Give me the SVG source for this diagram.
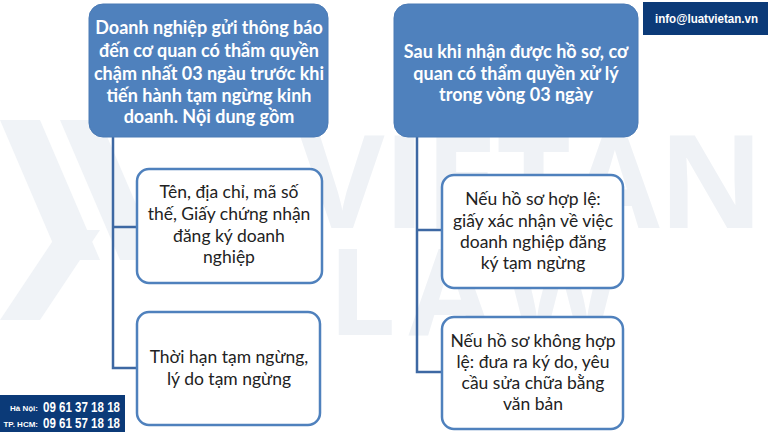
<svg xmlns="http://www.w3.org/2000/svg" width="768" height="432" viewBox="0 0 768 432">
<defs>
<style>
.wm{font-family:"Open Sans","Liberation Sans",sans-serif;font-weight:700;fill:#eff2f6}
.parent{fill:#4f81bd;stroke:#4a7ab5;stroke-width:1}
.child{fill:#ffffff;stroke:#4f81bd;stroke-width:2.5}
.pt{font-family:Lato,"Noto Sans",sans-serif;font-weight:700;font-size:18px;fill:#ffffff;text-anchor:middle}
.ct{font-family:Lato,"Noto Sans",sans-serif;font-size:17.5px;fill:#222222;text-anchor:middle}
.conn{fill:none;stroke:#3d68a3;stroke-width:2.5}
.navy{fill:#0b3a78}
.ph{font-family:"Liberation Sans",sans-serif;font-weight:700;fill:#ffffff}
</style>
</defs>
<rect width="768" height="432" fill="#ffffff"/>
<g id="watermark">
<polygon points="0,120 40,120 100,260 60,260" fill="#f0f3f7"/>
<polygon points="60,120 100,120 160,260 120,260" fill="#f0f3f7"/>
<polygon points="0,320 40,320 100,230 60,230" fill="#f0f3f7"/>
<text class="wm" x="300" y="228" font-size="130" letter-spacing="4" textLength="468" lengthAdjust="spacing">VIETAN</text>
<text class="wm" x="328" y="335" font-size="120" textLength="292" lengthAdjust="spacing">LAW</text>
</g>
<g id="connectors">
<path class="conn" d="M113,137 V368 H137 M113,227 H137"/>
<path class="conn" d="M417,137 V372 H442 M417,230 H442"/>
</g>
<g id="node-left-parent">
<rect class="parent" x="89" y="4" width="239" height="133" rx="14"/>
<text class="pt" x="209" y="34">Doanh nghiệp gửi thông báo</text>
<text class="pt" x="209" y="57">đến cơ quan có thẩm quyền</text>
<text class="pt" x="209" y="80">chậm nhất 03 ngàu trước khi</text>
<text class="pt" x="209" y="102">tiến hành tạm ngừng kinh</text>
<text class="pt" x="209" y="123">doanh. Nội dung gồm</text>
</g>
<g id="node-right-parent">
<rect class="parent" x="394" y="4" width="244" height="133" rx="14"/>
<text class="pt" x="516" y="58">Sau khi nhận được hồ sơ, cơ</text>
<text class="pt" x="516" y="80">quan có thẩm quyền xử lý</text>
<text class="pt" x="516" y="101">trong vòng 03 ngày</text>
</g>
<g id="node-left-child-1">
<rect class="child" x="137" y="169" width="185" height="114" rx="12"/>
<text class="ct" x="229" y="198">Tên, địa chỉ, mã số</text>
<text class="ct" x="229" y="220">thế, Giấy chứng nhận</text>
<text class="ct" x="229" y="242">đăng ký doanh</text>
<text class="ct" x="229" y="263">nghiệp</text>
</g>
<g id="node-left-child-2">
<rect class="child" x="137" y="312" width="183" height="113" rx="12"/>
<text class="ct" x="229" y="363">Thời hạn tạm ngừng,</text>
<text class="ct" x="229" y="385">lý do tạm ngừng</text>
</g>
<g id="node-right-child-1">
<rect class="child" x="442" y="175" width="181" height="113" rx="12"/>
<text class="ct" x="533" y="205">Nếu hồ sơ hợp lệ:</text>
<text class="ct" x="533" y="227">giấy xác nhận về việc</text>
<text class="ct" x="533" y="248">doanh nghiệp đăng</text>
<text class="ct" x="533" y="269">ký tạm ngừng</text>
</g>
<g id="node-right-child-2">
<rect class="child" x="442" y="317" width="181" height="112" rx="12"/>
<text class="ct" x="533" y="347">Nếu hồ sơ không hợp</text>
<text class="ct" x="533" y="368">lệ: đưa ra ký do, yêu</text>
<text class="ct" x="533" y="389">cầu sửa chữa bằng</text>
<text class="ct" x="533" y="410">văn bản</text>
</g>
<g id="email-badge">
<rect class="navy" x="643" y="2" width="125" height="33"/>
<text class="ph" x="655" y="23" font-size="12" textLength="103" lengthAdjust="spacingAndGlyphs">info@luatvietan.vn</text>
</g>
<g id="phone-badge">
<rect class="navy" x="0" y="395" width="125" height="37"/>
<text class="ph" x="38" y="411" font-size="8" text-anchor="end">Hà Nội:</text>
<text class="ph" x="43" y="412" font-size="14" textLength="77" lengthAdjust="spacingAndGlyphs">09 61 37 18 18</text>
<text class="ph" x="38" y="427" font-size="8" text-anchor="end">TP. HCM:</text>
<text class="ph" x="43" y="428" font-size="14" textLength="77" lengthAdjust="spacingAndGlyphs">09 61 57 18 18</text>
</g>
</svg>
